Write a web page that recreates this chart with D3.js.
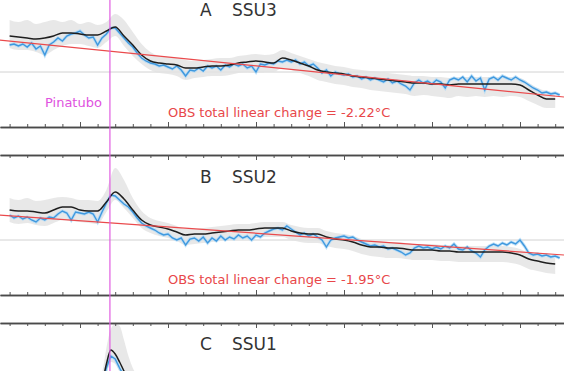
<!DOCTYPE html>
<html>
<head>
<meta charset="utf-8">
<script src="https://cdn.jsdelivr.net/npm/d3@7"></script>
<style>
  body { margin: 0; background: #fff; }
  svg { display: block; font-family: "DejaVu Sans", sans-serif; }
</style>
</head>
<body>
<svg id="chart" width="564" height="371"></svg>
<script>
// ---- time axis ----
var majorYears = [1990, 1995, 2000, 2005, 2010, 2015];
var minorYears = d3.range(1985, 2019, 1);
var pinatuboYear = 1991.7;
var trendYears = [1985.4, 2017.5];

// ---- A  SSU3 (K anomaly) ----
// model mean, half-yearly from 1986.0
var ssu3Model = [1.44,1.40,1.36,1.32,1.36,1.44,1.56,1.56,1.52,1.48,1.48,1.64,1.80,1.44,1.08,0.68,
  0.44,0.36,0.32,0.28,0.16,0.16,0.20,0.24,0.24,0.28,0.36,0.40,0.44,0.40,0.36,0.56,
  0.48,0.36,0.24,0.08,0,-0.04,-0.08,-0.16,-0.20,-0.24,-0.28,-0.32,-0.36,-0.40,-0.44,-0.44,
  -0.48,-0.48,-0.52,-0.48,-0.48,-0.48,-0.48,-0.48,-0.48,-0.48,-0.52,-0.72,-0.92,-1.08,-1.08];
// model ensemble spread, half-yearly from 1986.0
var ssu3EnsHi = [2.08,2.00,2.08,1.92,2.00,2.08,2.00,2.08,1.92,2.00,1.88,2.00,2.32,2.08,1.60,1.12,
  0.80,0.64,0.60,0.56,0.48,0.44,0.48,0.52,0.56,0.56,0.64,0.68,0.72,0.68,0.72,0.88,
  0.76,0.64,0.52,0.40,0.32,0.24,0.20,0.12,0.08,0.04,0,-0.04,-0.08,-0.12,-0.16,-0.16,
  -0.20,-0.20,-0.24,-0.20,-0.20,-0.20,-0.20,-0.20,-0.20,-0.20,-0.24,-0.44,-0.64,-0.76,-0.80];
var ssu3EnsLo = [0.96,0.88,0.88,0.80,0.68,0.88,1.04,1.12,1.12,1.04,0.96,1.20,1.44,1.04,0.64,0.32,
  0.08,-0.04,-0.08,-0.16,-0.32,-0.24,-0.20,-0.16,-0.16,-0.12,-0.04,0,-0.04,0,0,0.16,
  0.08,-0.04,-0.16,-0.32,-0.40,-0.48,-0.52,-0.60,-0.64,-0.72,-0.76,-0.80,-0.84,-0.88,-0.96,-0.92,
  -0.96,-1.00,-1.04,-0.96,-1.00,-0.96,-1.00,-0.96,-1.00,-0.96,-1.00,-1.16,-1.32,-1.44,-1.44];
// observations, quarterly from 1986.0
var ssu3Obs = [1.08,1.12,1.04,1.12,1.00,1.16,0.92,1.04,0.68,1.08,1.20,1.36,1.24,1.44,1.52,1.56,
  1.64,1.48,1.36,1.40,1.08,1.36,1.52,1.76,1.76,1.56,1.36,1.16,1.00,0.76,0.56,0.44,
  0.36,0.32,0.24,0.28,0.20,0.12,0.24,0.08,-0.16,0.08,0.04,0.16,0.04,0.24,0.16,0.24,
  0.08,0.28,0.20,0.32,0.24,0.32,0.16,0.24,0,0.32,0.28,0.36,0.32,0.44,0.40,0.48,
  0.40,0.48,0.32,0.40,0.24,0.32,0.16,-0.04,0.08,-0.16,0,-0.08,-0.12,-0.08,-0.20,-0.16,
  -0.28,-0.20,-0.32,-0.24,-0.32,-0.40,-0.28,-0.44,-0.36,-0.48,-0.56,-0.72,-0.44,-0.32,-0.44,-0.36,
  -0.48,-0.32,-0.40,-0.64,-0.32,-0.24,-0.32,-0.20,-0.40,-0.16,-0.36,-0.24,-0.72,-0.28,-0.20,-0.32,
  -0.16,-0.24,-0.32,-0.20,-0.32,-0.40,-0.52,-0.64,-0.72,-0.84,-0.80,-0.88,-0.84,-0.92];
var ssu3Trend = [1.28, -1.00];

// ---- B  SSU2 ----
var ssu2Model = [1.50,1.45,1.45,1.40,1.35,1.50,1.65,1.65,1.50,1.45,1.45,1.90,2.40,2.05,1.50,1.00,
  0.75,0.65,0.55,0.40,0.25,0.30,0.30,0.35,0.40,0.45,0.50,0.50,0.55,0.60,0.60,0.60,
  0.45,0.35,0.30,0.30,0.15,0.05,0,-0.10,-0.25,-0.35,-0.35,-0.40,-0.40,-0.45,-0.50,-0.50,
  -0.50,-0.55,-0.55,-0.60,-0.60,-0.60,-0.60,-0.60,-0.60,-0.65,-0.75,-0.95,-1.05,-1.15,-1.20];
var ssu2EnsHi = [2.10,2.00,2.10,1.95,2.00,2.10,2.15,2.10,2.00,2.00,1.95,2.50,3.60,3.00,2.10,1.45,
  1.10,0.95,0.85,0.70,0.55,0.55,0.60,0.65,0.70,0.75,0.80,0.80,0.85,0.90,0.90,0.90,
  0.75,0.65,0.60,0.60,0.45,0.35,0.30,0.20,0.05,-0.05,-0.05,-0.10,-0.10,-0.15,-0.20,-0.20,
  -0.20,-0.25,-0.25,-0.30,-0.30,-0.30,-0.30,-0.30,-0.30,-0.35,-0.45,-0.65,-0.75,-0.85,-0.90];
var ssu2EnsLo = [0.90,0.80,0.85,0.75,0.70,0.85,1.00,0.95,0.90,0.85,0.80,1.40,2.00,1.60,1.10,0.60,
  0.35,0.20,0.10,-0.05,-0.25,-0.20,-0.15,-0.10,-0.05,0,0.05,0.05,0.10,0.15,0.15,0.15,
  0,-0.10,-0.15,-0.15,-0.30,-0.40,-0.45,-0.55,-0.70,-0.80,-0.85,-0.90,-0.90,-0.95,-1.00,-1.00,
  -1.00,-1.05,-1.05,-1.10,-1.10,-1.10,-1.10,-1.10,-1.10,-1.15,-1.25,-1.45,-1.55,-1.65,-1.70];
var ssu2Obs = [1.25,1.10,1.20,1.05,1.15,1.00,0.90,1.10,1.00,1.15,1.10,1.30,1.45,1.35,1.00,1.40,
  1.35,1.30,1.40,1.30,0.90,1.40,1.85,2.25,2.20,2.00,1.80,1.65,1.40,1.10,0.85,0.70,
  0.60,0.50,0.35,0.25,0.30,0.10,0,0.10,-0.25,0.05,0.10,-0.05,0.15,-0.15,0.10,-0.05,
  0.20,0,0.15,0.05,0.25,0.10,0.20,0,0.25,0.15,0.35,0.45,0.55,0.60,0.50,0.70,
  0.55,0.40,0.25,0.35,0.20,0.30,0.15,0,-0.35,0,0.10,0.15,0.20,0.10,0.15,0,
  -0.10,-0.20,-0.30,-0.25,-0.35,-0.30,-0.45,-0.40,-0.50,-0.60,-0.75,-0.65,-0.40,-0.30,-0.40,-0.35,
  -0.45,-0.35,-0.45,-0.30,-0.40,-0.20,-0.45,-0.50,-0.35,-0.55,-0.65,-0.85,-0.50,-0.30,-0.20,-0.30,
  -0.15,-0.25,-0.10,-0.20,0,-0.30,-0.65,-0.75,-0.70,-0.80,-0.75,-0.85,-0.80,-0.90];
var ssu2Trend = [1.25, -0.75];

// ---- C  SSU1 (quarterly from 1990.0, only the top of the panel is in view) ----
var ssu1Model = [1.75,1.80,1.80,1.75,1.75,1.90,2.80,3.50,3.30,2.90,2.45,2.10,1.80,1.60,1.40,1.25,1.10];
var ssu1Obs = [1.60,1.65,1.55,1.60,1.50,1.70,2.60,3.20,3.05,2.60,2.20,1.90,1.65,1.50,1.30,1.20,1.05];
var ssu1EnsHi = [2.20,2.20,2.20,2.20,2.20,2.40,3.60,4.55,4.80,4.70,4.00,3.20,2.60,2.20,1.90,1.70,1.50];
var ssu1EnsLo = [1.35,1.40,1.40,1.35,1.35,1.50,2.30,2.90,2.80,2.40,2.00,1.70,1.40,1.20,1.00,0.85,0.70];

var W = 564, H = 371;
var svg = d3.select("#chart");

var x = d3.scaleLinear().domain([1985.4545, 2017.5]).range([0, W]);

function halfYears(arr, start) { return arr.map(function(v, i) { return [start + i * 0.5, v]; }); }
function quarters(arr, start) { return arr.map(function(v, i) { return [start + i * 0.25, v]; }); }

var panels = [
  { id: "A", name: "SSU3", top: -15, bottom: 127, dom: [-2.2, 3.48], titleY: 16,
    model: halfYears(ssu3Model, 1986), obs: quarters(ssu3Obs, 1986),
    hi: halfYears(ssu3EnsHi, 1986), lo: ssu3EnsLo, trend: ssu3Trend, label: "OBS total linear change = -2.22°C", labelY: 117 },
  { id: "B", name: "SSU2", top: 155, bottom: 295, dom: [-2.75, 4.25], titleY: 183,
    model: halfYears(ssu2Model, 1986), obs: quarters(ssu2Obs, 1986),
    hi: halfYears(ssu2EnsHi, 1986), lo: ssu2EnsLo, trend: ssu2Trend, label: "OBS total linear change = -1.95°C", labelY: 284 },
  { id: "C", name: "SSU1", top: 323, bottom: 465, dom: [-2.25, 4.85], titleY: 350,
    model: quarters(ssu1Model, 1990), obs: quarters(ssu1Obs, 1990),
    hi: quarters(ssu1EnsHi, 1990), lo: ssu1EnsLo, trend: null }
];

panels.forEach(function(p, k) {
  var y = d3.scaleLinear().domain(p.dom).range([p.bottom, p.top]);
  var g = svg.append("g");

  g.append("clipPath").attr("id", "clip" + k)
    .append("rect").attr("x", 0).attr("y", p.top).attr("width", W).attr("height", p.bottom - p.top);
  var plot = g.append("g").attr("clip-path", "url(#clip" + k + ")");

  // zero line
  plot.append("line")
    .attr("x1", 0).attr("x2", W)
    .attr("y1", y(0)).attr("y2", y(0))
    .attr("stroke", "#d2d2d2").attr("stroke-width", 1);

  // ensemble spread
  var area = d3.area()
    .x(function(d) { return x(d[0]); })
    .y0(function(d, i) { return y(p.lo[i]); })
    .y1(function(d) { return y(d[1]); })
    .curve(d3.curveMonotoneX);
  plot.append("path").datum(p.hi)
    .attr("d", area)
    .attr("fill", "#e2e2e2").attr("opacity", 0.8);

  var line = d3.line()
    .x(function(d) { return x(d[0]); })
    .y(function(d) { return y(d[1]); });

  // obs (halo + line)
  plot.append("path").datum(p.obs).attr("d", line)
    .attr("fill", "none").attr("stroke", "#b0daf6").attr("stroke-width", 3.2).attr("opacity", 0.8);
  plot.append("path").datum(p.obs).attr("d", line)
    .attr("fill", "none").attr("stroke", "#3f98de").attr("stroke-width", 1.4);

  // model mean
  plot.append("path").datum(p.model).attr("d", line.curve(d3.curveMonotoneX))
    .attr("fill", "none").attr("stroke", "#1e1e1e").attr("stroke-width", 1.5);
  line.curve(d3.curveLinear);

  // linear trend
  if (p.trend) {
    plot.append("path").datum(trendYears.map(function(t, i) { return [t, p.trend[i]]; }))
      .attr("d", line)
      .attr("fill", "none").attr("stroke", "#ea4a4c").attr("stroke-width", 1.2);
  }

  // spines with inward ticks
  var bottomMajor = d3.axisTop(x).tickValues(majorYears).tickSize(5).tickSizeOuter(0).tickFormat("");
  var bottomMinor = d3.axisTop(x).tickValues(minorYears).tickSize(3).tickSizeOuter(0).tickFormat("");
  var topMajor = d3.axisBottom(x).tickValues(majorYears).tickSize(5).tickSizeOuter(0).tickFormat("");
  var topMinor = d3.axisBottom(x).tickValues(minorYears).tickSize(3).tickSizeOuter(0).tickFormat("");

  [[p.bottom, bottomMinor], [p.bottom, bottomMajor], [p.top, topMinor], [p.top, topMajor]].forEach(function(a) {
    var ax = g.append("g").attr("transform", "translate(0," + a[0] + ")").call(a[1]);
    ax.select(".domain").attr("stroke", "#4a4a4a").attr("stroke-width", 1.3);
    ax.selectAll(".tick line").attr("stroke", "#555").attr("stroke-width", 1);
  });

  // titles
  g.append("text").attr("x", 200).attr("y", p.titleY).text(p.id)
    .attr("font-size", 17).attr("fill", "#333");
  g.append("text").attr("x", 232).attr("y", p.titleY).text(p.name)
    .attr("font-size", 17).attr("fill", "#333");

  if (p.label) {
    g.append("text").attr("x", 168).attr("y", p.labelY).text(p.label)
      .attr("font-size", 13).attr("fill", "#e8474a");
  }
});

// Pinatubo marker across all panels
svg.append("line")
  .attr("x1", x(pinatuboYear)).attr("x2", x(pinatuboYear))
  .attr("y1", 0).attr("y2", H)
  .attr("stroke", "#e15ee1").attr("stroke-width", 1.2);
svg.append("text")
  .attr("x", x(pinatuboYear) - 8).attr("y", 107)
  .attr("text-anchor", "end")
  .attr("font-size", 13).attr("fill", "#e052e0")
  .text("Pinatubo");
</script>
</body>
</html>
